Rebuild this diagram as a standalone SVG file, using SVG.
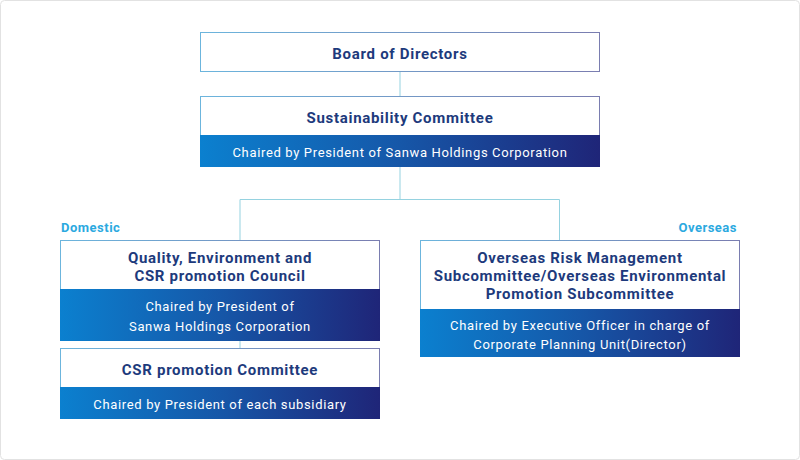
<svg xmlns="http://www.w3.org/2000/svg" width="800" height="460" viewBox="0 0 800 460">
<defs>
<linearGradient id="band" x1="0" y1="0" x2="1" y2="0">
<stop offset="0" stop-color="#0b80cf"/>
<stop offset="0.5" stop-color="#1657a8"/>
<stop offset="1" stop-color="#1f2578"/>
</linearGradient>
<linearGradient id="edge" x1="0" y1="0" x2="1" y2="0">
<stop offset="0" stop-color="#6cb5dd"/>
<stop offset="1" stop-color="#7a7db0"/>
</linearGradient>
<style>
.box{fill:#fff;stroke:url(#edge);stroke-width:1}
.band{fill:url(#band)}
.t{font-family:Roboto,"Liberation Sans",sans-serif;font-weight:700;font-size:15px;fill:#1d3a7c;text-anchor:middle;letter-spacing:0.7px}
.s{font-family:Roboto,"Liberation Sans",sans-serif;font-weight:400;font-size:13px;fill:#fff;text-anchor:middle;letter-spacing:0.65px}
.lab{font-family:Roboto,"Liberation Sans",sans-serif;font-weight:700;font-size:13px;fill:#2ba9df;letter-spacing:0.5px}
.con{fill:none;stroke:#95d2e0;stroke-width:1}
</style>
</defs>
<rect x="0.5" y="0.5" width="799" height="459" rx="4" fill="#fff" stroke="#e2e2e2"/>
<g id="connectors">
<path class="con" d="M400 71.5V96"/>
<path class="con" d="M400 166.5V199.5"/>
<path class="con" d="M240 240V199.5H559.5V240"/>
<path class="con" d="M240 340.5V348"/>
</g>
<g id="board">
<rect class="box" x="200.5" y="32.5" width="399" height="39"/>
<text class="t" x="400" y="59">Board of Directors</text>
</g>
<g id="sustainability">
<rect class="box" x="200.5" y="96.5" width="399" height="70"/>
<rect class="band" x="200" y="135" width="400" height="32"/>
<text class="t" x="400" y="123">Sustainability Committee</text>
<text class="s" x="400" y="156.5">Chaired by President of Sanwa Holdings Corporation</text>
</g>
<g id="domestic-label">
<text class="lab" x="61" y="231.5">Domestic</text>
</g>
<g id="overseas-label">
<text class="lab" x="737" y="231.5" text-anchor="end">Overseas</text>
</g>
<g id="quality">
<rect class="box" x="60.5" y="240.5" width="319" height="100"/>
<rect class="band" x="60" y="289" width="320" height="52"/>
<text class="t" x="220" y="263">Quality, Environment and</text>
<text class="t" x="220" y="281">CSR promotion Council</text>
<text class="s" x="220" y="310.5">Chaired by President of</text>
<text class="s" x="220" y="330.5">Sanwa Holdings Corporation</text>
</g>
<g id="csr">
<rect class="box" x="60.5" y="348.5" width="319" height="70"/>
<rect class="band" x="60" y="387" width="320" height="32"/>
<text class="t" x="220" y="375">CSR promotion Committee</text>
<text class="s" x="220" y="408.5">Chaired by President of each subsidiary</text>
</g>
<g id="overseas">
<rect class="box" x="420.5" y="240.5" width="319" height="116"/>
<rect class="band" x="420" y="309" width="320" height="48"/>
<text class="t" x="580" y="262.5">Overseas Risk Management</text>
<text class="t" x="580" y="280.5">Subcommittee/Overseas Environmental</text>
<text class="t" x="580" y="298.5">Promotion Subcommittee</text>
<text class="s" x="580" y="330">Chaired by Executive Officer in charge of</text>
<text class="s" x="580" y="348.5">Corporate Planning Unit(Director)</text>
</g>
</svg>
